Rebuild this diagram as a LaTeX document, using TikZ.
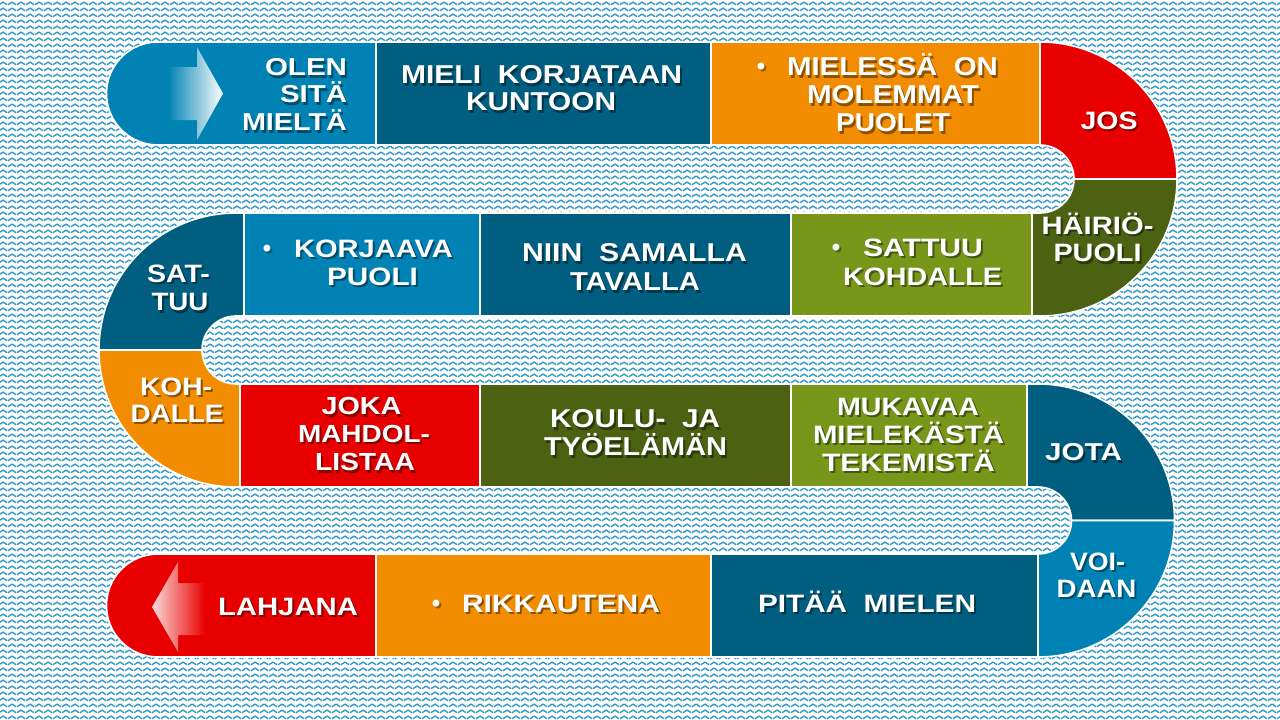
\documentclass[tikz,border=0pt]{standalone}
\usepackage{fontspec}
\setmainfont{Liberation Sans}
\usepackage{graphicx}
\usetikzlibrary{patterns}
\definecolor{lb}{RGB}{0,131,180}
\definecolor{dt}{RGB}{0,94,128}
\definecolor{orng}{RGB}{242,140,0}
\definecolor{rd}{RGB}{232,0,0}
\definecolor{dg}{RGB}{76,98,18}
\definecolor{lg}{RGB}{120,150,26}
\definecolor{patc}{RGB}{48,152,198}
\pgfdeclarepatternformonly{zz}{\pgfqpoint{0pt}{0pt}}{\pgfqpoint{9pt}{6pt}}{\pgfqpoint{9pt}{6pt}}{%
  \pgfsetlinewidth{1.6pt}%
  \pgfpathmoveto{\pgfqpoint{0pt}{1.5pt}}%
  \pgfpathcurveto{\pgfqpoint{1.5pt}{1.5pt}}{\pgfqpoint{3pt}{4.5pt}}{\pgfqpoint{4.5pt}{4.5pt}}%
  \pgfpathcurveto{\pgfqpoint{6pt}{4.5pt}}{\pgfqpoint{7.5pt}{1.5pt}}{\pgfqpoint{9pt}{1.5pt}}%
  \pgfusepath{stroke}}
\newlength\tlw
\newcommand\fitt[3]{%
  \pgfmathsetmacro\tfs{#1/0.716}%
  \fontsize{\tfs pt}{\tfs pt}\selectfont
  \settowidth\tlw{#3}%
  \pgfmathsetmacro\tsx{#2/\tlw}%
  \scalebox{\tsx}[1]{#3}}
\newcommand\tline[6]{%
  \node[txt,text height=#4pt,text=black,opacity=.42] at ({#2+2},{#3+2.8}) {\fitt{#4}{#5}{#6}};
  \node[txt,text height=#4pt] (#1) at (#2,#3) {\fitt{#4}{#5}{#6}};
}
\newcommand\tbul[3]{%
  \node[txt,text=black,opacity=.35] at ({#2+2},{#3+4.8}) {\fontsize{24pt}{24pt}\selectfont •};
  \node[txt] (#1) at (#2,#3+2.4) {\fontsize{24pt}{24pt}\selectfont •};
}
\tikzset{
  seg/.style={draw=white, line width=1.6pt, line join=round},
  txt/.style={inner sep=0pt, outer sep=0pt, text depth=0pt, text=white, font=\bfseries}
}
\begin{document}
\begin{tikzpicture}[x=1pt,y=1pt,yscale=-1]
\useasboundingbox (0,0) rectangle (1280,720);
\fill[white] (0,0) rectangle (1280,720);
\fill[pattern=zz, pattern color=patc] (0,0) rectangle (1280,720);
% row 1
\fill[lb,seg] (376,42) -- (158,42) arc[start angle=270, end angle=90, radius=51.5] -- (376,145) -- cycle;
\fill[dt,seg] (376,42) rectangle (711,145);
\fill[orng,seg] (711,42) rectangle (1040,145);
\fill[rd,seg] (1040,42) arc[start angle=270, end angle=360, radius=137] -- (1074,179) arc[start angle=0, end angle=-90, radius=34] -- cycle;
\fill[dg,seg] (1177,179) arc[start angle=0, end angle=90, radius=137] -- (1032,316) -- (1032,213) -- (1040,213) arc[start angle=90, end angle=0, radius=34] -- cycle;
% row 2
\fill[lg,seg] (791,213) rectangle (1032,316);
\fill[dt,seg] (480,213) rectangle (791,316);
\fill[lb,seg] (244,213) rectangle (480,316);
\fill[dt,seg] (244,213) -- (236,213) arc[start angle=270, end angle=180, radius=137] -- (202,350) arc[start angle=180, end angle=270, radius=34] -- (244,316) -- cycle;
\fill[orng,seg] (99,350) arc[start angle=180, end angle=90, radius=137] -- (240,487) -- (240,384) -- (236,384) arc[start angle=90, end angle=180, radius=34] -- cycle;
% row 3
\fill[rd,seg] (240,384) rectangle (480,487);
\fill[dg,seg] (480,384) rectangle (791,487);
\fill[lg,seg] (791,384) rectangle (1027,487);
\fill[dt,seg] (1027,384) -- (1038,384) arc[start angle=270, end angle=360, radius=136.5] -- (1071.5,520.5) arc[start angle=0, end angle=-90, radius=33.5] -- (1027,487) -- cycle;
\fill[lb,seg] (1174.5,520.5) arc[start angle=0, end angle=90, radius=136.5] -- (1038,554) arc[start angle=90, end angle=0, radius=33.5] -- cycle;
% row 4
\fill[dt,seg] (711,554) rectangle (1038,657);
\fill[orng,seg] (376,554) rectangle (711,657);
\fill[rd,seg] (376,554) -- (158,554) arc[start angle=270, end angle=90, radius=51.5] -- (376,657) -- cycle;
% arrows
\shade[left color=lb, right color=white] (168,67) -- (197,67) -- (197,47) -- (223,93.5) -- (197,140) -- (197,120) -- (168,120) -- cycle;
\shade[left color=white!85!rd, right color=rd] (152,607) -- (178,562) -- (178,583) -- (205,583) -- (205,635) -- (178,635) -- (178,652) -- cycle;
% texts row 1
\tline{olen}{306}{66.5}{17.5}{82}{OLEN}
\tline{sita}{313.5}{94}{17.5}{67}{SITÄ}
\tline{mielta}{294.5}{121.5}{17.5}{105}{MIELTÄ}
\tline{mieli}{541.5}{74}{18.5}{281}{MIELI~~KORJATAAN}
\tline{kuntoon}{541}{101.5}{18.5}{150}{KUNTOON}
\tbul{b1}{761}{66}
\tline{mielessa}{892.5}{66}{18.5}{211}{MIELESSÄ~~ON}
\tline{molemmat}{893}{94}{18.5}{172}{MOLEMMAT}
\tline{puolet}{893}{122}{18.5}{114}{PUOLET}
\tline{jos}{1109}{120}{18}{57}{JOS}
% row 2
\tline{sat}{178.5}{273}{18}{63}{SAT-}
\tline{tuu}{180}{301.5}{18}{57}{TUU}
\tbul{b2}{267}{248}
\tline{korjaava}{373.5}{248}{18}{159}{KORJAAVA}
\tline{puolia}{372.5}{276}{18}{91}{PUOLI}
\tline{niin}{634.5}{252}{18.5}{225}{NIIN~~SAMALLA}
\tline{tavalla}{635}{281}{18.5}{130}{TAVALLA}
\tbul{b3}{836}{247}
\tline{sattuu}{923}{247}{18}{120}{SATTUU}
\tline{kohdallea}{922.5}{276}{18}{159}{KOHDALLE}
\tline{hairio}{1097.5}{225}{18}{112}{HÄIRIÖ-}
\tline{puolib}{1097.5}{252.5}{18}{88}{PUOLI}
% row 3
\tline{koh}{176}{386}{18}{72}{KOH-}
\tline{dalle}{177}{413}{18}{93}{DALLE}
\tline{joka}{361.5}{405.5}{17.7}{80}{JOKA}
\tline{mahdol}{364}{433.3}{17.7}{132}{MAHDOL-}
\tline{listaa}{365}{462}{17.7}{100}{LISTAA}
\tline{koulu}{635}{418}{18.5}{170}{KOULU-~~JA}
\tline{tyoelaman}{635.5}{446}{18.5}{183}{TYÖELÄMÄN}
\tline{mukavaa}{908}{406}{18}{142}{MUKAVAA}
\tline{mielekasta}{908.5}{434}{18}{191}{MIELEKÄSTÄ}
\tline{tekemista}{908.5}{462}{18}{173}{TEKEMISTÄ}
\tline{jota}{1083.5}{452}{17.5}{77}{JOTA}
% row 4
\tline{voi}{1097.5}{561}{18}{55}{VOI-}
\tline{daan}{1096.5}{588}{18}{80}{DAAN}
\tline{lahjana}{288}{606}{18}{140}{LAHJANA}
\tbul{b4}{436}{603}
\tline{rikkautena}{561}{603}{18}{198}{RIKKAUTENA}
\tline{pitaa}{867}{603}{18}{218}{PITÄÄ~~MIELEN}
\end{tikzpicture}
\end{document}
